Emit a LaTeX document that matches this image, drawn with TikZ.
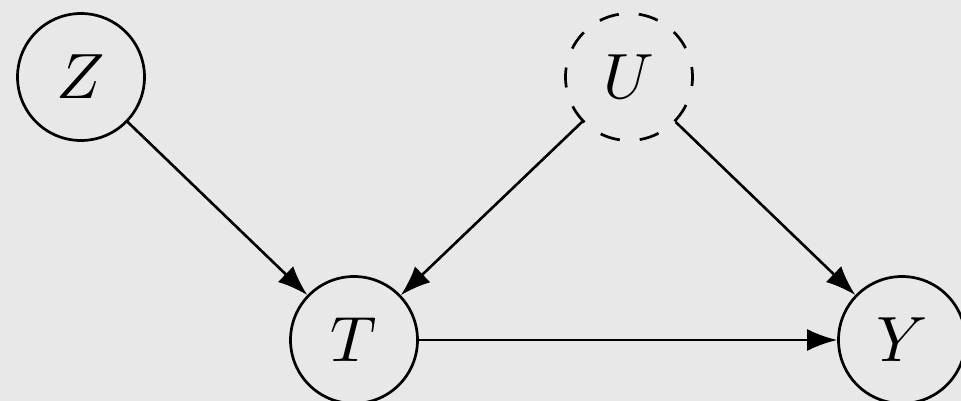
\documentclass[tikz,border=0pt]{standalone}
\usepackage{graphicx}
\usetikzlibrary{arrows.meta}
\definecolor{bgcol}{RGB}{232,232,232}
\newcommand{\bigvar}[1]{\scalebox{6.4}{$#1$}}
\tikzset{
  var/.style={circle, draw=black, line width=2.7pt, minimum size=127pt, inner sep=0pt},
  latent/.style={var, dash pattern=on 20pt off 20pt, dash phase=10pt},
  arr/.style={line width=2.6pt, -{Latex[length=30pt,width=22pt]}}
}
\begin{document}
\begin{tikzpicture}[x=1pt,y=-1pt]
\fill[bgcol] (0,0) rectangle (961,401);
\useasboundingbox (0,0) rectangle (961,401);
\node[var] (Z) at (81,77) {\bigvar{Z}};
\node[latent] (U) at (629,77) {\bigvar{U}};
\node[var] (T) at (354,340) {\bigvar{T}};
\node[var] (Y) at (902,340) {\bigvar{Y}};
\draw[arr] (Z) -- (T);
\draw[arr] (U) -- (T);
\draw[arr] (U) -- (Y);
\draw[arr] (T) -- (Y);
\end{tikzpicture}
\end{document}
